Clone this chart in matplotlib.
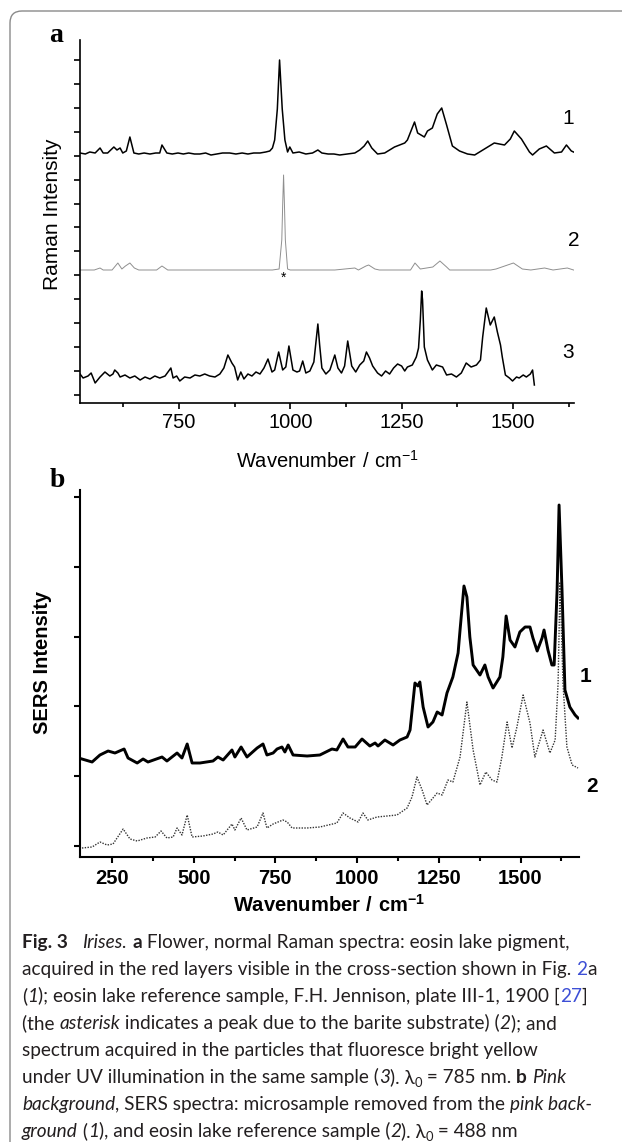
import matplotlib
matplotlib.use("Agg")
import matplotlib.pyplot as plt
import numpy as np
from matplotlib.patches import PathPatch
from matplotlib.path import Path
from matplotlib.transforms import IdentityTransform

# ---- data (wavenumber / cm-1, intensity in arbitrary units) ----
# panel a, trace 1: eosin lake pigment in the red layers
a1_wn = [528, 540, 550, 562, 573, 580, 590, 597, 604, 611,
         618, 624, 632, 640, 649, 660, 672, 685, 698, 707,
         712, 723, 735, 748, 760, 772, 785, 797, 810, 822,
         835, 848, 864, 878, 892, 905, 918, 932, 945, 954,
         960, 965, 971, 976, 982, 988, 994, 999, 1006, 1020,
         1035, 1050, 1062, 1071, 1085, 1098, 1111, 1128, 1145, 1156,
         1166, 1174, 1183, 1196, 1212, 1234, 1257, 1263, 1279, 1286,
         1301, 1308, 1319, 1330, 1340, 1351, 1364, 1380, 1398, 1414,
         1436, 1458, 1481, 1494, 1503, 1519, 1537, 1544, 1559, 1575,
         1593, 1609, 1620, 1631, 1636]
a1_int = [1, 0, 2, 1, 6, 1, 1, 4, 7, 4,
          6, 1, 3, 17, 1, 0, 1, 0, 1, 1,
          9, 1, 0, 1, 0, 1, 0, 0, 1, -1,
          0, 1, 1, 0, 1, 0, 1, 1, 2, 3,
          6, 14, 45, 94, 45, 14, 2, 7, 1, 2,
          0, 1, 4, 1, 0, 0, -1, 0, 1, 4,
          8, 13, 6, 0, 1, 7, 11, 14, 32, 21,
          17, 23, 26, 40, 46, 29, 8, 3, 0, -1,
          5, 11, 9, 15, 23, 15, 2, -1, 5, 8,
          1, 2, 9, 3, 2]

# panel a, trace 2: eosin lake reference on barite
a2_wn = [528, 560, 573, 580, 600, 613, 622, 630, 640, 650,
         660, 700, 712, 725, 800, 900, 960, 975, 981, 983,
         985, 987, 989, 994, 1000, 1100, 1145, 1153, 1170, 1176,
         1190, 1200, 1270, 1280, 1292, 1320, 1336, 1351, 1358, 1450,
         1462, 1501, 1521, 1540, 1571, 1590, 1622, 1636]
a2_int = [0, 0, 2, 0, 0, 7, 1, 4, 7, 2,
          0, 0, 4, 0, 0, 0, 0, 1, 30, 65,
          95, 65, 30, 1, 0, 0, 2, 0, 4, 5,
          1, 0, 0, 7, 1, 3, 9, 3, 0, 0,
          1, 7, 1, 0, 2, 0, 2, 0]

# panel a, trace 3: fluorescent yellow particles
a3_wn = [528, 535, 546, 553, 562, 573, 584, 595, 602, 606,
         613, 618, 629, 640, 651, 663, 674, 685, 696, 707,
         719, 732, 737, 745, 752, 763, 775, 786, 797, 808,
         819, 831, 842, 851, 860, 869, 875, 882, 889, 896,
         905, 914, 923, 932, 941, 950, 959, 965, 974, 983,
         990, 997, 1006, 1015, 1021, 1028, 1035, 1044, 1053, 1057,
         1062, 1066, 1071, 1080, 1089, 1100, 1107, 1115, 1122, 1129,
         1138, 1147, 1156, 1165, 1171, 1178, 1185, 1196, 1205, 1214,
         1223, 1232, 1241, 1250, 1257, 1263, 1274, 1283, 1288, 1292,
         1295, 1297, 1301, 1308, 1319, 1328, 1335, 1342, 1351, 1362,
         1373, 1384, 1395, 1406, 1418, 1427, 1432, 1440, 1449, 1458,
         1465, 1472, 1476, 1483, 1492, 1499, 1508, 1514, 1523, 1530,
         1539, 1544, 1548]
a3_int = [1, -3, -1, 2, -8, -2, 3, -1, 1, 5,
          2, -2, 0, -3, -1, -5, -2, -4, -1, -3,
          -1, 7, -3, -1, -6, -2, -3, 0, -1, 1,
          -1, -2, 1, 7, 20, 12, 8, -5, 3, -4,
          1, -1, 3, 1, 7, 16, 3, 5, 23, 5,
          8, 29, 5, 3, 4, 14, 2, 4, 13, 30,
          51, 30, 7, 1, 5, 20, 7, 2, 9, 34,
          9, 3, 10, 14, 23, 17, 9, 2, -1, 4,
          1, 7, 11, 9, 4, 8, 10, 18, 27, 55,
          84, 75, 28, 15, 5, 10, 9, 8, 0, 1,
          -2, 2, 12, 8, 10, 15, 38, 67, 50, 58,
          43, 30, 18, 0, -3, -6, -2, -3, 0, -2,
          1, 5, -10]

# panel b, trace 1: pink background microsample (SERS)
b1_wn = [158, 189, 213, 238, 259, 287, 299, 327, 345, 360,
         403, 418, 449, 464, 480, 495, 519, 559, 574, 590,
         617, 626, 645, 663, 694, 712, 724, 743, 755, 770,
         779, 789, 804, 847, 886, 923, 938, 957, 972, 994,
         1015, 1039, 1055, 1064, 1085, 1110, 1131, 1153, 1162, 1177,
         1186, 1192, 1202, 1217, 1232, 1245, 1260, 1275, 1293, 1309,
         1315, 1327, 1336, 1345, 1355, 1376, 1391, 1401, 1416, 1437,
         1446, 1456, 1468, 1483, 1498, 1514, 1529, 1538, 1551, 1566,
         1572, 1584, 1596, 1603, 1612, 1618, 1627, 1636, 1651, 1667,
         1676]
b1_int = [98, 95, 102, 106, 104, 108, 99, 94, 98, 95,
          100, 96, 104, 99, 113, 94, 94, 96, 100, 97,
          107, 100, 110, 100, 109, 113, 102, 104, 108, 110,
          105, 112, 102, 101, 102, 108, 107, 118, 110, 110,
          118, 111, 114, 111, 117, 112, 117, 120, 127, 174,
          171, 175, 150, 130, 135, 145, 142, 164, 180, 204,
          227, 271, 260, 220, 192, 182, 192, 180, 169, 180,
          200, 241, 217, 210, 225, 230, 230, 219, 206, 219,
          227, 207, 192, 192, 267, 352, 267, 167, 150, 142,
          139]

# panel b, trace 2: eosin lake reference sample (SERS)
b2_wn = [158, 189, 213, 235, 253, 284, 305, 327, 357, 382,
         400, 418, 437, 449, 464, 480, 495, 528, 559, 574,
         590, 617, 626, 645, 663, 694, 712, 724, 743, 773,
         786, 801, 847, 886, 938, 957, 978, 1003, 1018, 1033,
         1061, 1092, 1122, 1153, 1168, 1183, 1199, 1214, 1245, 1260,
         1278, 1293, 1315, 1336, 1355, 1376, 1394, 1413, 1428, 1443,
         1459, 1474, 1489, 1508, 1529, 1544, 1569, 1590, 1606, 1615,
         1621, 1630, 1642, 1658, 1676]
b2_int = [9, 10, 15, 12, 13, 28, 18, 16, 19, 20,
          26, 19, 20, 29, 22, 42, 20, 21, 23, 25,
          22, 33, 27, 39, 27, 30, 44, 29, 33, 37,
          35, 29, 29, 30, 34, 44, 39, 35, 44, 37,
          40, 41, 42, 49, 60, 80, 67, 52, 64, 62,
          77, 75, 100, 155, 107, 72, 85, 77, 75, 100,
          135, 109, 130, 162, 134, 100, 127, 104, 117, 174,
          275, 174, 110, 92, 89]

a_labels = ["1", "2", "3"]
a_offsets = [249, 133, 28]   # vertical stacking of the three spectra in panel a
b_labels = ["1", "2"]

# ---- figure ----
W, H = 622, 1142
plt.rcParams["font.family"] = ["Liberation Sans", "DejaVu Sans"]
plt.rcParams["mathtext.fontset"] = "custom"
plt.rcParams["mathtext.rm"] = "Liberation Sans"
plt.rcParams["mathtext.bf"] = "Liberation Sans:bold"

fig = plt.figure(figsize=(W / 100, H / 100), dpi=100)


def px_axes(left, top, right, bottom):
    return fig.add_axes([left / W, 1 - bottom / H, (right - left) / W, (bottom - top) / H])


def style_axes(ax, lw):
    for s in ("top", "right"):
        ax.spines[s].set_visible(False)
    for s in ("left", "bottom"):
        ax.spines[s].set_linewidth(lw)
    ax.tick_params(which="both", direction="out", width=lw, top=False, right=False)
    ax.tick_params(which="major", length=4.5)
    ax.tick_params(which="minor", length=3)
    ax.tick_params(axis="y", labelleft=False)


# panel a
axa = px_axes(80, 40, 574, 403)
axa.plot(a1_wn, np.array(a1_int) + a_offsets[0], color="black", lw=1.1)
axa.plot(a2_wn, np.array(a2_int) + a_offsets[1], color="#8f8f8f", lw=0.7)
axa.plot(a3_wn, np.array(a3_int) + a_offsets[2], color="black", lw=1.1)
axa.set_xlim(528, 1637)
axa.set_ylim(0, 363)
axa.set_xticks([750, 1000, 1250, 1500])
axa.set_xticks([625, 875, 1125, 1375, 1625], minor=True)
axa.set_yticks(np.arange(8, 350, 23.93))
style_axes(axa, 1.2)
axa.tick_params(axis="x", labelsize=14.5, pad=3)
axa.set_xlabel(r"$\mathrm{Wavenumber\ /\ cm^{-1}}$", fontsize=14.5)
axa.xaxis.set_label_coords(0.5, -0.128)
axa.set_ylabel("Raman Intensity", fontsize=15)
axa.yaxis.set_label_coords(-0.036, 0.52)
peak2 = int(np.argmax(a2_int))
axa.text(a2_wn[peak2], a_offsets[1] - 8, "*", ha="center", va="center", fontsize=10)
for lab, x, y in zip(a_labels, [1624, 1636, 1624], [284, 162, 50]):
    axa.text(x, y, lab, ha="center", va="center", fontsize=15)
fig.text(56 / W, 1 - 36 / H, "a", family="Liberation Serif", fontweight="bold",
         fontsize=20, ha="center", va="center")

# panel b
axb = px_axes(80, 490, 579, 857)
axb.plot(b1_wn, b1_int, color="black", lw=2.1)
axb.plot(b2_wn, b2_int, color="#333333", lw=1.0, linestyle=(0, (1, 1)))
axb.set_xlim(152, 1679)
axb.set_ylim(0, 367)
axb.set_xticks([250, 500, 750, 1000, 1250, 1500])
axb.set_xticks([375, 625, 875, 1125, 1375, 1625], minor=True)
axb.set_yticks([11, 81, 151, 220, 290, 360])
style_axes(axb, 1.5)
axb.tick_params(axis="x", labelsize=14.5, pad=4)
for t in axb.get_xticklabels():
    t.set_fontweight("bold")
axb.set_xlabel(r"$\mathbf{Wavenumber\ /\ cm^{-1}}$", fontsize=14.5)
axb.xaxis.set_label_coords(0.5, -0.1)
axb.set_ylabel("SERS Intensity", fontsize=14.5, fontweight="bold")
axb.yaxis.set_label_coords(-0.056, 0.53)
for lab, x, y in zip(b_labels, [1700, 1719], [181, 70]):
    axb.text(x, y, lab, ha="center", va="center", fontsize=15, fontweight="bold")
fig.text(57 / W, 1 - 481 / H, "b", family="Liberation Serif", fontweight="bold",
         fontsize=20, ha="center", va="center")

# frame: only the top and left edges with the rounded corner fall inside the image
top = H - 11
frame_path = Path([(W + 20, top), (22, top), (10, top), (10, top - 12), (10, -20)],
                  [Path.MOVETO, Path.LINETO, Path.CURVE3, Path.CURVE3, Path.LINETO])
fig.add_artist(PathPatch(frame_path, transform=IdentityTransform(), fill=False,
                         ec="#8a8a8a", lw=1.0))

# ---- caption ----
cap_font = ["Lato", "DejaVu Sans"]
ink = "#231f20"
blue = "#3d4fd6"
renderer = fig.canvas.get_renderer()


def seg_kw(style, fs):
    kw = dict(family=cap_font, fontsize=fs, color=ink)
    if "b" in style:
        kw["fontweight"] = "bold"
    if "i" in style:
        kw["fontstyle"] = "italic"
    if "c" in style:
        kw["color"] = blue
    if "s" in style:
        kw["fontsize"] = fs * 0.68
    return kw


def width_px(txt, kw):
    t1 = fig.text(0, 0, "|" + txt + "|", **kw)
    t2 = fig.text(0, 0, "||", **kw)
    w = t1.get_window_extent(renderer).width - t2.get_window_extent(renderer).width
    t1.remove()
    t2.remove()
    return w


cap_lines = [
    [("Fig. 3", "b"), ("   ", ""), ("Irises.", "i"), (" ", ""), ("a", "b"),
     (" Flower, normal Raman spectra: eosin lake pigment,", "")],
    [("acquired in the red layers visible in the cross-section shown in Fig. ", ""),
     ("2", "c"), ("a", "")],
    [("(", ""), ("1", "i"), ("); eosin lake reference sample, F.H. Jennison, plate III-1, 1900 [", ""),
     ("27", "c"), ("]", "")],
    [("(the ", ""), ("asterisk", "i"), (" indicates a peak due to the barite substrate) (", ""),
     ("2", "i"), ("); and", "")],
    [("spectrum acquired in the particles that fluoresce bright yellow", "")],
    [("under UV illumination in the same sample (", ""), ("3", "i"), ("). \u03bb", ""), ("0", "s"),
     (" = 785 nm. ", ""), ("b", "b"), (" ", ""), ("Pink", "i")],
    [("background", "i"), (", SERS spectra: microsample removed from the ", ""),
     ("pink back-", "i")],
    [("ground", "i"), (" (", ""), ("1", "i"), ("), and eosin lake reference sample (", ""),
     ("2", "i"), ("). \u03bb", ""), ("0", "s"), (" = 488 nm", "")],
]

# size the caption so that its widest line spans the same width as in the picture
ref_w = sum(width_px(t, seg_kw(s, 10)) for t, s in cap_lines[1])
cap_fs = 10 * 578 / ref_w

for i, segs in enumerate(cap_lines):
    base = 948 + 27 * i
    x = 22
    for txt, style in segs:
        kw = seg_kw(style, cap_fs)
        dy = -0.28 * cap_fs if "s" in style else 0
        fig.text(x / W, 1 - (base - dy) / H, txt, va="baseline", ha="left", **kw)
        x += width_px(txt, kw)

fig.savefig("out.png", dpi=100)
